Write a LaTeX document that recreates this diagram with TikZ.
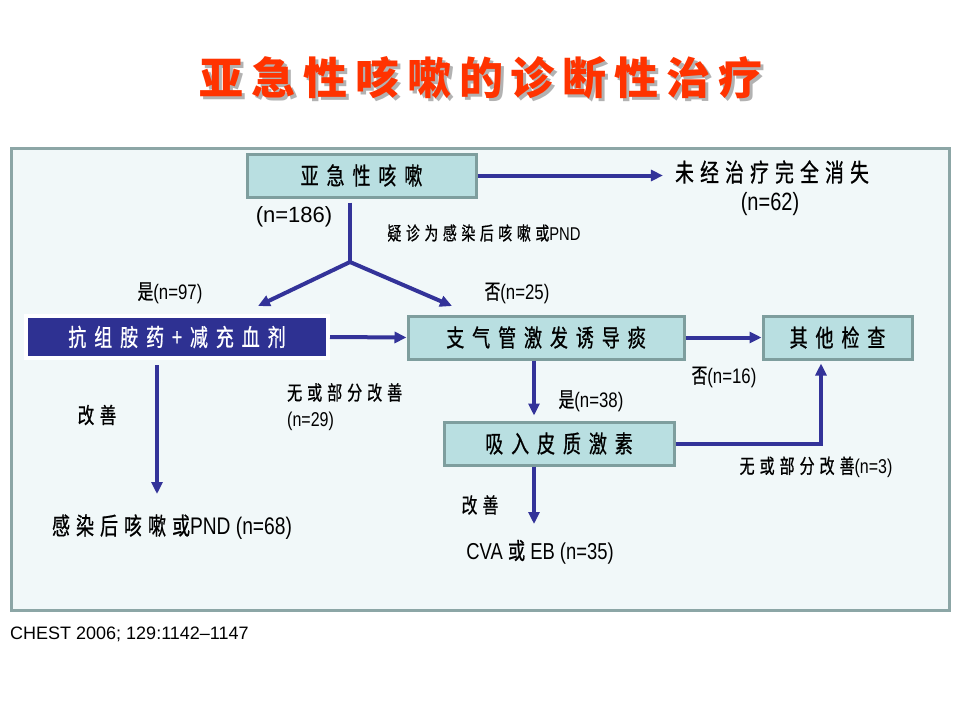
\documentclass[tikz,border=0pt]{standalone}
\usepackage{fontspec}
\setmainfont{Liberation Sans}[FakeStretch=0.8]
\newfontfamily\wide{Liberation Sans}
\newfontfamily\zh{Noto Sans CJK SC}[FakeStretch=0.75,LetterSpace=25,FakeBold=0.8]
\newfontfamily\zhbox{Noto Sans CJK SC}[FakeStretch=0.75,LetterSpace=33,FakeBold=0.8]
\newfontfamily\zhtitle{Noto Sans CJK SC}[LetterSpace=18]
\usetikzlibrary{arrows.meta,positioning,shadows}
\definecolor{navy}{HTML}{2E3192}
\definecolor{arrowblue}{HTML}{333399}
\definecolor{boxfill}{HTML}{B9DFE1}
\definecolor{boxedge}{HTML}{7E9E9E}
\definecolor{panelfill}{HTML}{F1F8F9}
\definecolor{paneledge}{HTML}{8CA6A6}
\definecolor{titlered}{HTML}{FF3300}
\tikzset{
  tealbox/.style={draw=boxedge, line width=3pt, fill=boxfill, inner sep=0pt, minimum height=43pt, font=\fontsize{24}{28}\selectfont\zhbox},
  drugbox/.style={draw=white, line width=4pt, fill=navy, text=white, inner sep=0pt, minimum width=302pt, minimum height=42pt,
    font=\fontsize{24}{28}\selectfont\zhbox, drop shadow={shadow xshift=1.5pt, shadow yshift=-2pt, opacity=.25}},
  lbl/.style={inner sep=0pt, font=\fontsize{20}{26}\selectfont},
  arr/.style={draw=arrowblue, line width=4pt, -{Triangle[length=12pt,width=11pt]}},
  link/.style={draw=arrowblue, line width=4pt}
}
\begin{document}
\begin{tikzpicture}[x=1pt,y=-1pt]
\useasboundingbox (0,0) rectangle (960,720);
% title
\node[inner sep=0pt, font=\fontsize{44}{50}\selectfont\zhtitle\bfseries, text=black!30] (titleshade) at (484,81) {亚急性咳嗽的诊断性治疗};
\node[inner sep=0pt, font=\fontsize{44}{50}\selectfont\zhtitle\bfseries, text=titlered] (title) at (481,78) {亚急性咳嗽的诊断性治疗};
% panel
\draw[draw=paneledge, line width=3pt, fill=panelfill] (11,148) rectangle (949,610);

\node[tealbox, minimum width=229pt] (cough) at (361.5,175.5) {亚急性咳嗽};
\node[lbl, font=\fontsize{25}{30}\selectfont] (gone) at (772,172) {\zh 未经治疗完全消失};
\node[lbl, font=\fontsize{25}{30}\selectfont] (goneN) at (770,204) {(n=62)};
\node[lbl, font=\fontsize{22}{26}\selectfont\wide] (total) at (294,217) {(n=186)};
\node[lbl, font=\fontsize{18.5}{22}\selectfont] (suspect) at (484,233) {{\zh 疑诊为感染后咳嗽或}PND};
\coordinate (fork) at (350,262);
\coordinate (toA) at (258,306);
\coordinate (toB) at (452,306);
\node[lbl, font=\fontsize{21}{26}\selectfont] (yesA) at (170,293) {{\zh 是}(n=97)};
\node[lbl, font=\fontsize{21}{26}\selectfont] (noA) at (517,293) {{\zh 否}(n=25)};

\node[drugbox] (drug) at (177,337) {抗组胺药+减充血剂};
\node[tealbox, minimum width=276pt] (prov) at (546,337.5) {支气管激发诱导痰};
\node[tealbox, minimum width=149pt] (other) at (837.5,337.5) {其他检查};
\node[tealbox, minimum width=230pt] (ics) at (559,443.5) {吸入皮质激素};

\node[lbl, font=\fontsize{21}{26}\selectfont] (noB) at (724,377) {{\zh 否}(n=16)};
\node[lbl, font=\fontsize{21}{26}\selectfont] (yesB) at (591,401) {{\zh 是}(n=38)};
\node[lbl, anchor=north west, align=left] (partA) at (287,383) {{\zh 无或部分改善}\\(n=29)};
\node[lbl, font=\fontsize{22}{26}\selectfont] (betterA) at (97,415) {\zh 改善};
\node[lbl, font=\fontsize{24}{28}\selectfont] (pidc) at (172,527) {{\zh 感染后咳嗽或}PND (n=68)};
\node[lbl] (partB) at (816,467) {{\zh 无或部分改善}(n=3)};
\node[lbl, font=\fontsize{21}{26}\selectfont] (betterB) at (480,505) {\zh 改善};
\node[lbl, font=\fontsize{23}{28}\selectfont] (cva) at (540,552) {CVA {\zh 或} EB (n=35)};
\node[lbl, anchor=west, font=\fontsize{18}{22}\selectfont\wide] (ref) at (10,634) {CHEST 2006; 129:1142–1147};

\coordinate (colA) at (157,494);
\coordinate (colB) at (534,0);
\coordinate (colC) at (821,0);
\coordinate (endB) at (534,524);

\draw[arr] (cough.east) -- ([xshift=-12pt]cough.east -| gone.west);
\draw[link] ([yshift=-4pt]cough.south -| fork) -- (fork);
\draw[arr] (fork) -- (toA);
\draw[arr] (fork) -- (toB);
\draw[arr] (drug.east) -- (prov.west);
\draw[arr] (prov.east) -- (other.west);
\draw[arr, shorten <=5pt] (drug.south -| colA) -- (colA);
\draw[arr, shorten >=5pt] (prov.south -| colB) -- (ics.north -| colB);
\draw[arr, shorten >=3pt] (ics.east) -| (other.south -| colC);
\draw[arr] (ics.south -| endB) -- (endB);
\end{tikzpicture}
\end{document}
